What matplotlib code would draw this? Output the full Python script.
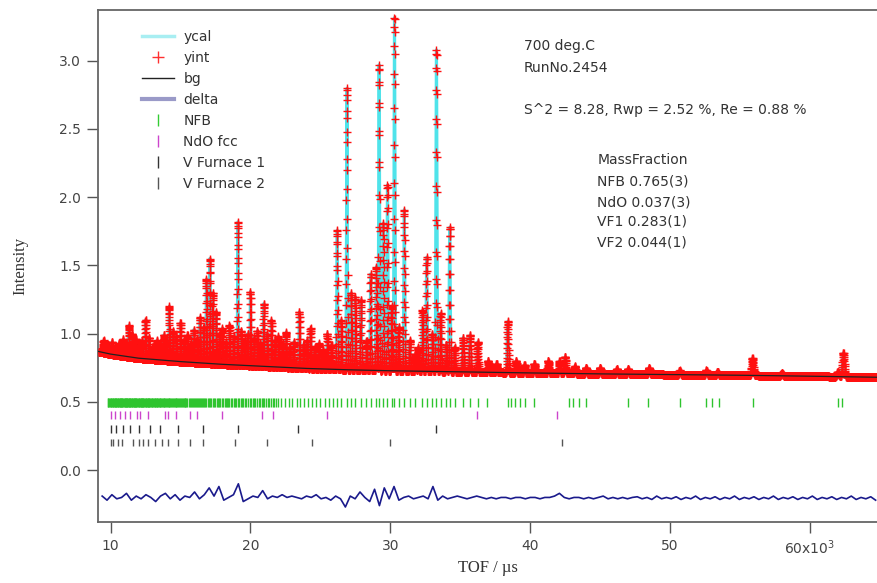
import numpy as np
import matplotlib
matplotlib.use("Agg")
import matplotlib.pyplot as plt
from matplotlib.lines import Line2D

# background (TOF in 10^3 us, intensity)
bg_x = [9.1, 10.0, 12.0, 15.0, 18.0, 21.0, 24.0, 27.0, 30.0, 35.0, 40.0, 45.0, 50.0, 55.0, 60.0, 65.0]
bg_y = [0.87, 0.85, 0.82, 0.795, 0.775, 0.76, 0.745, 0.735, 0.728, 0.72, 0.712, 0.705, 0.70, 0.695, 0.688, 0.68]

peak_x = [9.5, 9.8, 10.1, 10.35, 10.6, 10.9, 11.1, 11.3, 11.55, 11.8, 12.0, 12.25, 12.5, 12.75,
          13.0, 13.3, 13.55, 13.8, 14.0, 14.2, 14.45, 14.7, 15.0, 15.25, 15.5, 15.75, 15.95, 16.2,
          16.4, 16.65, 16.85, 17.1, 17.3, 17.55, 17.8, 18.0, 18.25, 18.5, 18.8, 19.1, 19.35, 19.6,
          19.8, 20.0, 20.25, 20.5, 20.7, 20.95, 21.2, 21.5, 21.75, 22.0, 22.3, 22.55, 22.8, 23.1,
          23.5, 23.8, 24.05, 24.3, 24.6, 24.9, 25.2, 25.5, 25.8, 26.2, 26.5, 26.9, 27.2, 27.5,
          27.9, 28.3, 28.6, 29.0, 29.2, 29.5, 29.8, 30.1, 30.3, 30.6, 31.0, 31.4, 31.8, 32.0,
          32.3, 32.6, 33.0, 33.3, 33.6, 34.0, 34.25, 34.6, 35.2, 35.7, 36.25, 37.0, 37.6, 38.4,
          39.0, 39.6, 40.3, 41.3, 42.1, 42.5, 43.2, 44.0, 45.0, 46.2, 47.0, 48.5, 50.7, 52.6,
          53.4, 55.9, 58.0, 62.0, 62.4]
peak_top = [0.95, 0.92, 0.94, 0.90, 0.93, 0.96, 0.93, 1.06, 1.00, 0.96, 0.92, 0.95, 1.10, 0.97,
            0.90, 0.95, 0.93, 0.99, 0.94, 1.20, 1.02, 0.98, 1.08, 0.95, 0.99, 0.93, 1.03, 0.96,
            1.12, 1.05, 1.40, 1.55, 1.30, 1.16, 1.00, 1.04, 0.94, 1.06, 0.98, 1.82, 1.02, 0.95,
            1.00, 1.31, 0.97, 1.02, 0.93, 1.22, 1.00, 1.10, 0.95, 0.98, 0.93, 1.01, 0.90, 0.94,
            1.16, 0.92, 0.95, 1.04, 0.90, 0.93, 0.88, 1.00, 0.92, 1.76, 1.10, 2.80, 1.30, 1.27,
            1.25, 0.95, 1.44, 1.49, 2.97, 1.81, 2.09, 1.20, 3.32, 1.05, 1.91, 0.95, 0.85, 0.90,
            1.17, 1.56, 1.00, 3.08, 1.15, 0.92, 1.78, 0.90, 0.97, 0.99, 0.94, 0.80, 0.78, 1.09,
            0.80, 0.77, 0.78, 0.80, 0.80, 0.83, 0.76, 0.75, 0.75, 0.74, 0.74, 0.75, 0.73, 0.73,
            0.72, 0.82, 0.71, 0.72, 0.86]

# residual (delta), shifted by -0.2
delta_y = [-0.19, -0.22, -0.18, -0.21, -0.20, -0.17, -0.22, -0.19, -0.21, -0.18,
           -0.20, -0.23, -0.19, -0.17, -0.21, -0.18, -0.22, -0.19, -0.20, -0.16,
           -0.21, -0.18, -0.13, -0.19, -0.12, -0.22, -0.20, -0.18, -0.10, -0.23,
           -0.21, -0.19, -0.20, -0.15, -0.21, -0.19, -0.20, -0.18, -0.20, -0.19,
           -0.20, -0.21, -0.19, -0.20, -0.18, -0.21, -0.20, -0.22, -0.19, -0.21,
           -0.27, -0.19, -0.21, -0.16, -0.20, -0.23, -0.14, -0.26, -0.13, -0.21,
           -0.12, -0.22, -0.20, -0.19, -0.21, -0.20, -0.19, -0.21, -0.12, -0.22,
           -0.19, -0.21, -0.20, -0.19, -0.20, -0.21, -0.20, -0.19, -0.20, -0.21,
           -0.20, -0.21, -0.20, -0.20, -0.21, -0.20, -0.20, -0.21, -0.20, -0.20,
           -0.21, -0.20, -0.20, -0.19, -0.17, -0.20, -0.21, -0.20, -0.20, -0.21,
           -0.20, -0.21, -0.20, -0.19, -0.21, -0.20, -0.21, -0.20, -0.21, -0.20,
           -0.195, -0.21, -0.20, -0.215, -0.19, -0.21, -0.20, -0.21, -0.195, -0.215,
           -0.20, -0.21, -0.19, -0.215, -0.20, -0.21, -0.195, -0.215, -0.20, -0.21,
           -0.19, -0.215, -0.20, -0.21, -0.195, -0.215, -0.20, -0.21, -0.19, -0.215,
           -0.20, -0.21, -0.195, -0.215, -0.20, -0.21, -0.19, -0.215, -0.20, -0.21,
           -0.195, -0.215, -0.20, -0.21, -0.19, -0.215, -0.20, -0.21, -0.195, -0.22]

# reflection positions of each phase
nfb_refl = [9.8, 9.85, 9.9, 9.95, 10.0, 10.05, 10.1, 10.15, 10.2, 10.25, 10.3, 10.34, 10.38, 10.42,
            10.45, 10.5, 10.55, 10.6, 10.65, 10.7, 10.72, 10.76, 10.8, 10.85, 10.9, 10.95, 11.0,
            11.04, 11.08, 11.12, 11.15, 11.2, 11.25, 11.3, 11.35, 11.4, 11.42, 11.46, 11.5, 11.55,
            11.6, 11.65, 11.7, 11.74, 11.78, 11.82, 11.85, 11.9, 11.95, 12.0, 12.05, 12.1, 12.15,
            12.2, 12.22, 12.26, 12.3, 12.35, 12.4, 12.45, 12.5, 12.55, 12.6, 12.65, 12.7, 12.74,
            12.78, 12.83, 12.88, 12.93, 12.98, 13.05, 13.1, 13.15, 13.2, 13.25, 13.3, 13.35, 13.4,
            13.45, 13.5, 13.56, 13.62, 13.7, 13.75, 13.8, 13.85, 13.9, 13.95, 14.02, 14.1, 14.15,
            14.2, 14.28, 14.35, 14.4, 14.45, 14.52, 14.6, 14.65, 14.7, 14.78, 14.85, 14.9, 14.95,
            15.02, 15.1, 15.18, 15.25, 15.3, 15.35, 15.42, 15.5, 15.58, 15.65, 15.72, 15.8, 15.88,
            15.95, 16.02, 16.1, 16.18, 16.25, 16.32, 16.4, 16.48, 16.55, 16.62, 16.7, 16.78, 16.85,
            16.95, 17.05, 17.12, 17.2, 17.3, 17.4, 17.5, 17.6, 17.68, 17.75, 17.85, 17.95, 18.05,
            18.15, 18.22, 18.3, 18.4, 18.5, 18.6, 18.7, 18.8, 18.9, 19.0, 19.1, 19.2, 19.3, 19.4,
            19.5, 19.6, 19.7, 19.82, 19.95, 20.05, 20.15, 20.25, 20.35, 20.48, 20.6, 20.7, 20.8,
            20.9, 21.0, 21.12, 21.25, 21.35, 21.45, 21.58, 21.7, 21.82, 21.95, 22.2, 22.5, 22.75,
            23.0, 23.3, 23.55, 23.85, 24.1, 24.4, 24.7, 25.0, 25.3, 25.6, 25.9, 26.2, 26.5, 26.9,
            27.2, 27.5, 27.9, 28.3, 28.6, 29.0, 29.2, 29.5, 29.8, 30.1, 30.3, 30.6, 31.0, 31.4,
            31.8, 32.3, 32.6, 33.0, 33.3, 33.6, 34.0, 34.25, 34.6, 35.2, 35.7, 36.25, 36.9, 38.4,
            38.6, 38.9, 39.3, 39.6, 40.3, 42.8, 43.1, 43.5, 44.0, 47.0, 48.4, 50.7, 52.6, 53.0,
            53.5, 55.9, 62.0, 62.3]
ndo_refl = [10.0, 10.3, 10.7, 11.0, 11.4, 11.9, 12.1, 12.7, 13.9, 14.1, 14.7, 15.7, 16.2, 18.0,
            20.8, 21.6, 25.5, 36.2, 41.9]
vf1_refl = [10.0, 10.4, 10.9, 11.4, 12.0, 12.8, 13.5, 14.8, 16.6, 19.1, 23.4, 33.3]
vf2_refl = [10.0, 10.2, 10.5, 10.8, 11.6, 12.0, 12.3, 12.7, 13.2, 13.7, 14.1, 14.8, 15.7, 16.6,
            18.9, 21.2, 24.4, 30.0, 42.3]

xticks = [10, 20, 30, 40, 50, 60]
xtick_labels = ["10", "20", "30", "40", "50", "60x10$^3$"]
yticks = [0.0, 0.5, 1.0, 1.5, 2.0, 2.5, 3.0]

# calculated profile on a TOF grid (constant dt/t)
tof = np.geomspace(9.2, 64.8, 10000)
bg_grid = np.interp(tof, bg_x, bg_y)
px = np.array(peak_x)
amp = np.array(peak_top) - np.interp(px, bg_x, bg_y)
sig = 0.0011 * px
ycal = bg_grid + (amp[None, :] * np.exp(-0.5 * ((tof[:, None] - px[None, :]) / sig[None, :]) ** 2)).sum(axis=1)
delta_x = np.linspace(9.4, 64.7, len(delta_y))

fig = plt.figure(figsize=(8.77, 5.83), dpi=100)
ax = fig.add_axes([0.1117, 0.1046, 0.8883, 0.8782])

ax.plot(tof, ycal, color="#4fe3ea", lw=2.2, zorder=2)
ax.plot(tof, ycal, ls="none", marker="+", ms=5.5, mew=1.0, color="#ff1010", zorder=3)
ax.plot(bg_x, bg_y, color="#222222", lw=0.9, zorder=4)
ax.plot(delta_x, delta_y, color="#1a1a8c", lw=1.2, zorder=3)

ax.vlines(nfb_refl, 0.465, 0.525, color="#2ec42e", lw=1)
ax.vlines(ndo_refl, 0.375, 0.43, color="#cc44cc", lw=1)
ax.vlines(vf1_refl, 0.275, 0.33, color="#333333", lw=1)
ax.vlines(vf2_refl, 0.175, 0.23, color="#555555", lw=1)

ax.set_xlim(9.1, 64.8)
ax.set_ylim(-0.38, 3.37)
ax.set_xticks(xticks)
ax.set_xticklabels(xtick_labels)
ax.set_yticks(yticks)
ax.set_yticklabels([f"{v:.1f}" for v in yticks])
ax.tick_params(direction="out", length=8, width=1, color="#555555", labelcolor="#444444",
               labelsize=10, pad=4)
for s in ["left", "bottom", "top"]:
    ax.spines[s].set_color("#666666")
    ax.spines[s].set_linewidth(1.3)
ax.spines["right"].set_visible(False)

ax.set_xlabel("TOF / µs", family="Liberation Serif", fontsize=12, color="#333333", labelpad=2)
ax.set_ylabel("Intensity", family="Liberation Serif", fontsize=12, color="#333333", labelpad=22)

handles = [
    Line2D([], [], color="#a8eef2", lw=2.5),
    Line2D([], [], ls="none", marker="+", ms=8, mew=1, color="#ff3030"),
    Line2D([], [], color="#222222", lw=1),
    Line2D([], [], color="#9a9ac8", lw=3),
    Line2D([], [], ls="none", marker="|", ms=9, color="#33cc33"),
    Line2D([], [], ls="none", marker="|", ms=9, color="#cc44cc"),
    Line2D([], [], ls="none", marker="|", ms=9, color="#333333"),
    Line2D([], [], ls="none", marker="|", ms=9, color="#555555"),
]
labels = ["ycal", "yint", "bg", "delta", "NFB", "NdO fcc", "V Furnace 1", "V Furnace 2"]
leg = ax.legend(handles, labels, loc="upper left", bbox_to_anchor=(0.04, 0.985), frameon=False,
                fontsize=10, handlelength=2.3, handletextpad=0.7, labelspacing=0.5)
for t in leg.get_texts():
    t.set_color("#333333")

tx = dict(transform=ax.transAxes, fontsize=10, color="#333333", va="center", ha="left")
ax.text(0.547, 0.930, "700 deg.C", **tx)
ax.text(0.547, 0.887, "RunNo.2454", **tx)
ax.text(0.547, 0.805, "S^2 = 8.28, Rwp = 2.52 %, Re = 0.88 %", **tx)
ax.text(0.641, 0.707, "MassFraction", **tx)
ax.text(0.641, 0.666, "NFB 0.765(3)", **tx)
ax.text(0.641, 0.625, "NdO 0.037(3)", **tx)
ax.text(0.641, 0.586, "VF1 0.283(1)", **tx)
ax.text(0.641, 0.545, "VF2 0.044(1)", **tx)

fig.savefig("out.png", dpi=100)
